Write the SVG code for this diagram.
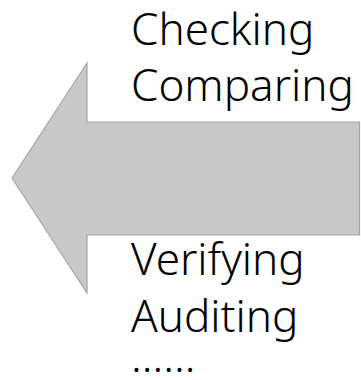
<svg xmlns="http://www.w3.org/2000/svg" width="361" height="380" viewBox="0 0 361 380">
<style>
.lbl{font-family:"Noto Sans","DejaVu Sans",sans-serif;font-size:44px;font-weight:300;fill:#000}
.arrow{fill:#c8c8c8;stroke:#a6a6a6;stroke-width:1.2}
</style>
<rect width="361" height="380" fill="#fff"/>
<g id="arrow">
<polygon class="arrow" points="12,178 87,63 87,122 359.5,122 359.5,235 87,235 87,293"/>
</g>
<g id="labels">
<text class="lbl" x="131" y="45">Checking</text>
<text class="lbl" x="131" y="101">Comparing</text>
<text class="lbl" x="131" y="275">Verifying</text>
<text class="lbl" x="131" y="332">Auditing</text>
<text class="lbl" x="131" y="372">……</text>
</g>
</svg>
